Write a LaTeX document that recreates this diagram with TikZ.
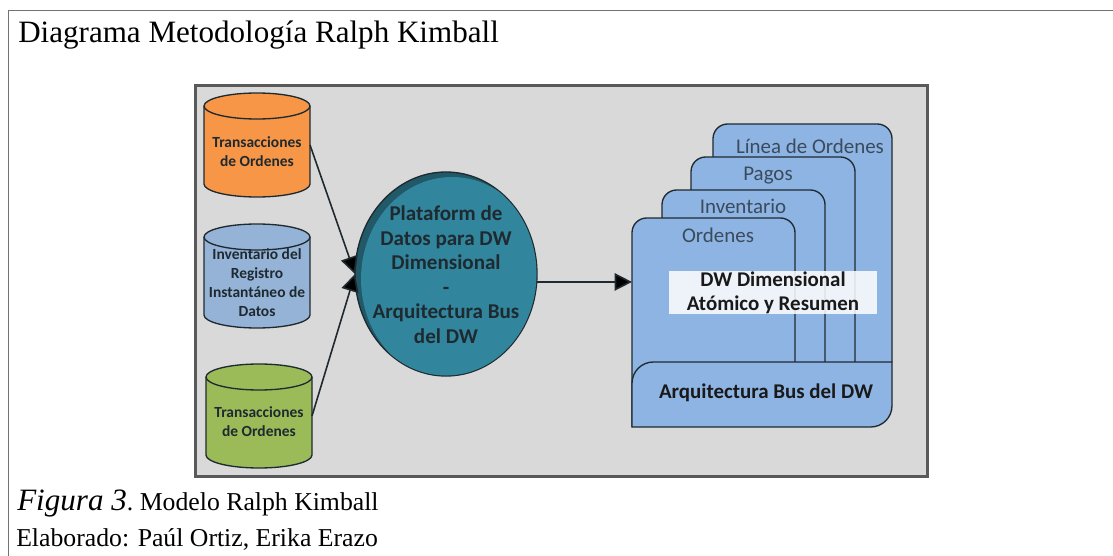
\documentclass[tikz,border=0pt]{standalone}
\usepackage{fontspec}
\setmainfont{Liberation Serif}
\newfontfamily\calfont{Carlito}
\usetikzlibrary{arrows.meta,shapes.geometric,calc}
\definecolor{panelgray}{HTML}{D9D9D9}
\definecolor{orangec}{HTML}{F79646}
\definecolor{bluec}{HTML}{95B3D7}
\definecolor{greenc}{HTML}{9BBB59}
\definecolor{tealc}{HTML}{31859C}
\definecolor{tealdark}{HTML}{215968}
\definecolor{cardc}{HTML}{8DB4E2}
\definecolor{inkc}{HTML}{1F2A30}
\definecolor{labelc}{HTML}{3B4A5C}
\tikzset{
  cylbox/.style={minimum width=79.5pt,minimum height=58.5pt,inner sep=0pt,outer sep=0pt},
  cyltext/.style={font=\calfont\bfseries\fontsize{11.6}{14.2}\selectfont,align=center,text=inkc,inner sep=0pt},
  edgeline/.style={draw=inkc,line width=1pt},
  cardshape/.style={edgeline,fill=cardc},
  arrowline/.style={draw=inkc,line width=1.2pt,-{Triangle[length=13pt,width=13pt,fill=black]}},
  cardlabel/.style={font=\calfont\fontsize{15.7}{18}\selectfont,text=labelc,inner sep=0pt},
  busbold/.style={font=\calfont\bfseries\fontsize{15.7}{18}\selectfont,text=black!90,inner sep=0pt,align=center},
}
\newcommand{\dbcyl}[2]{%
  \draw[edgeline,fill=#2] (#1.north west) -- (#1.south west)
    arc[start angle=180,end angle=360,x radius=39.75pt,y radius=9.75pt] -- (#1.north east)
    arc[start angle=0,end angle=180,x radius=39.75pt,y radius=9.75pt] -- cycle;
  \draw[edgeline] (#1.north west) arc[start angle=180,end angle=360,x radius=39.75pt,y radius=9.75pt];
}
\begin{document}
\begin{tikzpicture}[x=0.75pt,y=-0.75pt]
\useasboundingbox (0,0) rectangle (1113,556);
% page frame
\draw[black!55,line width=0.9pt] (1113,10.5) -- (8.5,10.5) -- (8.5,556);
% panel
\node[draw=black!65,line width=2pt,fill=panelgray,minimum width=549pt,minimum height=293pt,inner sep=0pt] (panel) at (561.5,281) {};
% cylinders
\node[cylbox] (c1) at (257,145) {};
\node[cylbox] (c2) at (257,276) {};
\node[cylbox] (c3) at (259,416) {};
\dbcyl{c1}{orangec}
\dbcyl{c2}{bluec}
\dbcyl{c3}{greenc}
\node[cyltext] (t1) at (257,151.5) {Transacciones\\de Ordenes};
\node[cyltext] (t2) at (257,283) {Inventario del\\Registro\\Instantáneo de\\Datos};
\node[cyltext] (t3) at (259,422) {Transacciones\\de Ordenes};
% ellipse
\node[ellipse,draw=inkc,line width=1pt,fill=tealdark,minimum width=136.5pt,minimum height=153pt,inner sep=0pt,outer sep=0pt] (hub) at (446,274) {};
\begin{scope}
  \clip (446,274) ellipse [x radius=90.5,y radius=101.5];
  \fill[tealc] (452,279) ellipse [x radius=91,y radius=102];
\end{scope}
\node[font=\calfont\bfseries\fontsize{15.8}{18.4}\selectfont,align=center,text=inkc,inner sep=0pt] (hubtext) at (446,274.5)
  {Plataform de\\Datos para DW\\Dimensional\\-\\Arquitectura Bus\\del DW};
% cards
\draw[cardshape,rounded corners=11pt] (713,362) -- (713,124) -- (892,124) [sharp corners] -- (892,362);
\draw[cardshape,rounded corners=11pt] (691,362) -- (691,157) -- (855,157) [sharp corners] -- (855,362);
\draw[cardshape,rounded corners=11pt] (662,362) -- (662,190) -- (825,190) [sharp corners] -- (825,362);
\node[minimum width=122.25pt,minimum height=156.75pt,inner sep=0pt,outer sep=0pt] (front) at (713.5,322.5) {};
\draw[cardshape,rounded corners=11pt] (632,427) -- (632,218) -- (795,218) [sharp corners] -- (795,362);
\draw[cardshape] (632,427) [rounded corners=16pt] -- (632,362) [sharp corners] -- (892,362) [rounded corners=16pt] -- (892,427) [sharp corners] -- cycle;
\node[cardlabel] (l1) at (810,146) {Línea de Ordenes};
\node[cardlabel] (l2) at (768,176) {Pagos};
\node[cardlabel] (l3) at (743,206) {Inventario};
\node[cardlabel] (l4) at (718,235) {Ordenes};
\node[fill=white,fill opacity=0.85,text opacity=1,minimum width=156pt,minimum height=32.5pt,inner sep=0pt] (dwbox) at (773,292.5) {};
\node[busbold] (dw) at (773,292.5) {DW Dimensional\\Atómico y Resumen};
\node[busbold] (bus) at (766,393) {Arquitectura Bus del DW};
% connectors
\draw[arrowline] (c1.east) -- (hub.west);
\draw[arrowline] (c3.east) -- (hub.west);
\draw[arrowline] (hub.-5) -- (hub.-5 -| front.west);
% texts
\node[anchor=base west,font=\fontsize{23.3}{26}\selectfont,inner sep=0pt] (title) at (18,42.5) {Diagrama Metodología Ralph Kimball};
\node[anchor=base west,font=\fontsize{19.3}{22}\selectfont,inner sep=0pt] (cap) at (17,510) {{\fontsize{23.3}{26}\selectfont\itshape Figura 3}.\hspace{-1.5pt} Modelo Ralph Kimball};
\node[anchor=base west,font=\fontsize{19.3}{22}\selectfont,inner sep=0pt] (auth) at (16,546) {Elaborado: Paúl Ortiz, Erika Erazo};
\end{tikzpicture}
\end{document}
